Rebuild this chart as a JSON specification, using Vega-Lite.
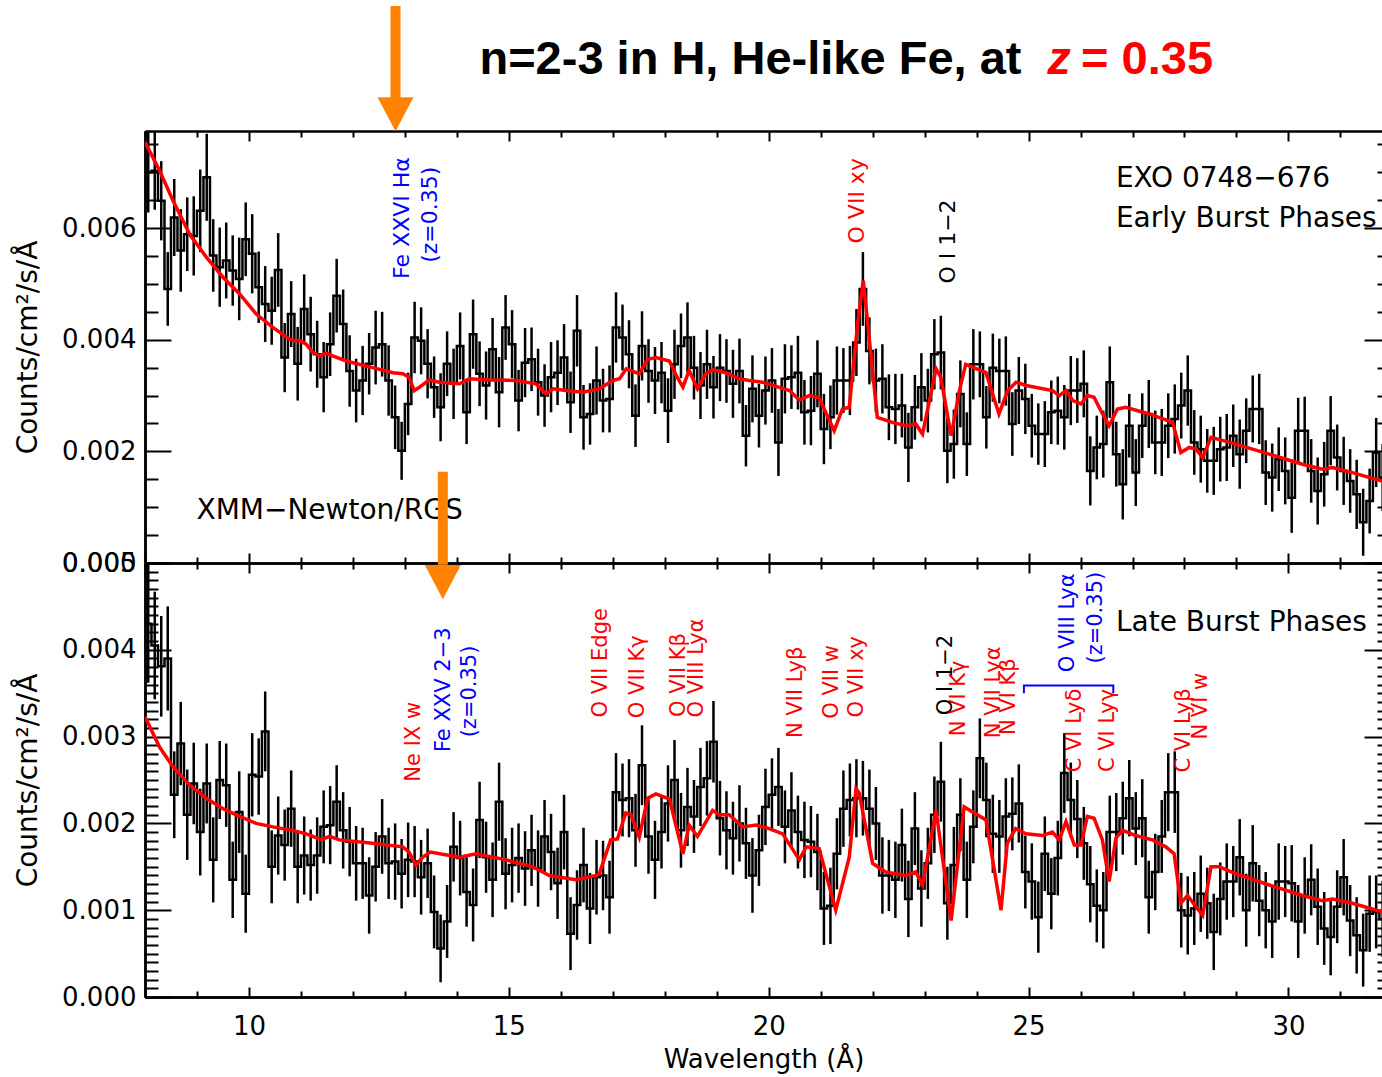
{
"$schema":"https://vega.github.io/schema/vega-lite/v6.json",
"width":1237,"height":866,
"autosize":{"type":"none"},
"padding":{"left":145,"top":131,"right":0,"bottom":80},
"background":"white",
"config":{"view":{"stroke":null},
"axis":{"grid":false,"domainColor":"#000000","domainWidth":2.5,"tickColor":"#000000","tickWidth":2,"labelColor":"#000000","labelFont":"DejaVu Sans","labelFontSize":26,"titleFont":"DejaVu Sans","titleFontSize":26,"titleFontWeight":"normal","titleColor":"#000000","labelFlush":false,"labelOverlap":false}},
"datasets":{
"top":[{"x":8.0625,"y":0.007,"e":0.00072},{"x":8.1875,"y":0.00703,"e":0.0007},{"x":8.3125,"y":0.00649,"e":0.00071},{"x":8.4375,"y":0.00491,"e":0.00066},{"x":8.5625,"y":0.00619,"e":0.00069},{"x":8.6875,"y":0.0056,"e":0.00074},{"x":8.8125,"y":0.00589,"e":0.00066},{"x":8.9375,"y":0.00586,"e":0.00071},
{"x":9.0625,"y":0.00631,"e":0.00074},{"x":9.1875,"y":0.00691,"e":0.00078},{"x":9.3125,"y":0.00551,"e":0.00065},{"x":9.4375,"y":0.0053,"e":0.00071},{"x":9.5625,"y":0.00542,"e":0.00068},{"x":9.6875,"y":0.00524,"e":0.00063},{"x":9.8125,"y":0.00509,"e":0.00074},{"x":9.9375,"y":0.0058,"e":0.00066},
{"x":10.0625,"y":0.00554,"e":0.00071},{"x":10.1875,"y":0.00494,"e":0.00064},{"x":10.3125,"y":0.00464,"e":0.00068},{"x":10.4375,"y":0.00452,"e":0.00061},{"x":10.5625,"y":0.00525,"e":0.00066},{"x":10.6875,"y":0.00368,"e":0.00062},{"x":10.8125,"y":0.00446,"e":0.00059},{"x":10.9375,"y":0.00357,"e":0.00066},
{"x":11.0625,"y":0.00455,"e":0.00062},{"x":11.1875,"y":0.0041,"e":0.00067},{"x":11.3125,"y":0.00374,"e":0.0006},{"x":11.4375,"y":0.00333,"e":0.00063},{"x":11.5625,"y":0.00392,"e":0.00057},{"x":11.6875,"y":0.00479,"e":0.00066},{"x":11.8125,"y":0.00428,"e":0.00062},{"x":11.9375,"y":0.00344,"e":0.00064},
{"x":12.0625,"y":0.00309,"e":0.00057},{"x":12.1875,"y":0.00327,"e":0.00062},{"x":12.3125,"y":0.00357,"e":0.00055},{"x":12.4375,"y":0.00386,"e":0.00066},{"x":12.5625,"y":0.00392,"e":0.00058},{"x":12.6875,"y":0.00327,"e":0.00063},{"x":12.8125,"y":0.00261,"e":0.00057},{"x":12.9375,"y":0.00201,"e":0.00052},
{"x":13.0625,"y":0.00285,"e":0.00056},{"x":13.1875,"y":0.00404,"e":0.00064},{"x":13.3125,"y":0.00398,"e":0.0006},{"x":13.4375,"y":0.00357,"e":0.00062},{"x":13.5625,"y":0.00315,"e":0.00055},{"x":13.6875,"y":0.00279,"e":0.00061},{"x":13.8125,"y":0.00357,"e":0.00058},{"x":13.9375,"y":0.00321,"e":0.00063},
{"x":14.0625,"y":0.00389,"e":0.0006},{"x":14.1875,"y":0.0027,"e":0.00057},{"x":14.3125,"y":0.0041,"e":0.00062},{"x":14.4375,"y":0.00339,"e":0.00058},{"x":14.5625,"y":0.00318,"e":0.00061},{"x":14.6875,"y":0.00383,"e":0.00056},{"x":14.8125,"y":0.00306,"e":0.00063},{"x":14.9375,"y":0.00422,"e":0.00058},
{"x":15.0625,"y":0.00392,"e":0.00061},{"x":15.1875,"y":0.00291,"e":0.00055},{"x":15.3125,"y":0.00359,"e":0.00062},{"x":15.4375,"y":0.00365,"e":0.00057},{"x":15.5625,"y":0.00324,"e":0.0006},{"x":15.6875,"y":0.003,"e":0.00056},{"x":15.8125,"y":0.00333,"e":0.00063},{"x":15.9375,"y":0.00341,"e":0.00058},
{"x":16.0625,"y":0.00368,"e":0.0006},{"x":16.1875,"y":0.00288,"e":0.00055},{"x":16.3125,"y":0.00416,"e":0.00064},{"x":16.4375,"y":0.00261,"e":0.00058},{"x":16.5625,"y":0.00267,"e":0.00055},{"x":16.6875,"y":0.00327,"e":0.00061},{"x":16.8125,"y":0.00291,"e":0.00057},{"x":16.9375,"y":0.00294,"e":0.0006},
{"x":17.0625,"y":0.00422,"e":0.00063},{"x":17.1875,"y":0.00404,"e":0.00059},{"x":17.3125,"y":0.00374,"e":0.00061},{"x":17.4375,"y":0.00264,"e":0.00056},{"x":17.5625,"y":0.00389,"e":0.00062},{"x":17.6875,"y":0.00344,"e":0.00057},{"x":17.8125,"y":0.00327,"e":0.0006},{"x":17.9375,"y":0.00341,"e":0.00055},
{"x":18.0625,"y":0.00273,"e":0.00058},{"x":18.1875,"y":0.00356,"e":0.00062},{"x":18.3125,"y":0.00389,"e":0.00058},{"x":18.4375,"y":0.00404,"e":0.00063},{"x":18.5625,"y":0.0035,"e":0.00057},{"x":18.6875,"y":0.00318,"e":0.0006},{"x":18.8125,"y":0.00356,"e":0.00062},{"x":18.9375,"y":0.00315,"e":0.00056},
{"x":19.0625,"y":0.0035,"e":0.0006},{"x":19.1875,"y":0.00344,"e":0.00057},{"x":19.3125,"y":0.00321,"e":0.00061},{"x":19.4375,"y":0.00344,"e":0.00058},{"x":19.5625,"y":0.00228,"e":0.00055},{"x":19.6875,"y":0.00312,"e":0.0006},{"x":19.8125,"y":0.00264,"e":0.00057},{"x":19.9375,"y":0.00309,"e":0.00061},
{"x":20.0625,"y":0.00327,"e":0.00058},{"x":20.1875,"y":0.00216,"e":0.0006},{"x":20.3125,"y":0.0033,"e":0.00062},{"x":20.4375,"y":0.00333,"e":0.00057},{"x":20.5625,"y":0.00341,"e":0.00066},{"x":20.6875,"y":0.0027,"e":0.00058},{"x":20.8125,"y":0.00273,"e":0.00062},{"x":20.9375,"y":0.00339,"e":0.0006},
{"x":21.0625,"y":0.0024,"e":0.00063},{"x":21.1875,"y":0.00261,"e":0.00057},{"x":21.3125,"y":0.00327,"e":0.00061},{"x":21.4375,"y":0.00327,"e":0.00058},{"x":21.5625,"y":0.00327,"e":0.00062},{"x":21.6875,"y":0.00395,"e":0.0006},{"x":21.8125,"y":0.00491,"e":0.00066},{"x":21.9375,"y":0.0038,"e":0.0006},
{"x":22.0625,"y":0.00327,"e":0.00057},{"x":22.1875,"y":0.0033,"e":0.00062},{"x":22.3125,"y":0.00279,"e":0.00059},{"x":22.4375,"y":0.00276,"e":0.00063},{"x":22.5625,"y":0.00282,"e":0.00057},{"x":22.6875,"y":0.00207,"e":0.00062},{"x":22.8125,"y":0.00279,"e":0.00058},{"x":22.9375,"y":0.00315,"e":0.00061},
{"x":23.0625,"y":0.00291,"e":0.00057},{"x":23.1875,"y":0.00374,"e":0.00063},{"x":23.3125,"y":0.00377,"e":0.00066},{"x":23.4375,"y":0.00201,"e":0.00058},{"x":23.5625,"y":0.00213,"e":0.00062},{"x":23.6875,"y":0.00303,"e":0.0006},{"x":23.8125,"y":0.00213,"e":0.00057},{"x":23.9375,"y":0.00356,"e":0.00063},
{"x":24.0625,"y":0.00356,"e":0.00059},{"x":24.1875,"y":0.00261,"e":0.00056},{"x":24.3125,"y":0.0035,"e":0.00061},{"x":24.4375,"y":0.00344,"e":0.00058},{"x":24.5625,"y":0.00344,"e":0.00062},{"x":24.6875,"y":0.00249,"e":0.00057},{"x":24.8125,"y":0.00309,"e":0.0006},{"x":24.9375,"y":0.00294,"e":0.00063},
{"x":25.0625,"y":0.00246,"e":0.00057},{"x":25.1875,"y":0.00231,"e":0.00055},{"x":25.3125,"y":0.00231,"e":0.00059},{"x":25.4375,"y":0.0027,"e":0.00057},{"x":25.5625,"y":0.00273,"e":0.00061},{"x":25.6875,"y":0.00261,"e":0.00058},{"x":25.8125,"y":0.00309,"e":0.00062},{"x":25.9375,"y":0.00309,"e":0.00058},
{"x":26.0625,"y":0.00321,"e":0.0006},{"x":26.1875,"y":0.00165,"e":0.00062},{"x":26.3125,"y":0.00207,"e":0.00057},{"x":26.4375,"y":0.00213,"e":0.0006},{"x":26.5625,"y":0.00324,"e":0.00064},{"x":26.6875,"y":0.00195,"e":0.00058},{"x":26.8125,"y":0.00141,"e":0.00063},{"x":26.9375,"y":0.00246,"e":0.00057},
{"x":27.0625,"y":0.00162,"e":0.0006},{"x":27.1875,"y":0.00246,"e":0.00058},{"x":27.3125,"y":0.00267,"e":0.00061},{"x":27.4375,"y":0.00216,"e":0.00057},{"x":27.5625,"y":0.00216,"e":0.0006},{"x":27.6875,"y":0.00246,"e":0.00058},{"x":27.8125,"y":0.00258,"e":0.00062},{"x":27.9375,"y":0.00282,"e":0.00059},
{"x":28.0625,"y":0.00309,"e":0.00063},{"x":28.1875,"y":0.00216,"e":0.00058},{"x":28.3125,"y":0.00204,"e":0.0006},{"x":28.4375,"y":0.00183,"e":0.00057},{"x":28.5625,"y":0.00183,"e":0.00061},{"x":28.6875,"y":0.00204,"e":0.00058},{"x":28.8125,"y":0.00207,"e":0.0006},{"x":28.9375,"y":0.00228,"e":0.00056},
{"x":29.0625,"y":0.00195,"e":0.00062},{"x":29.1875,"y":0.00237,"e":0.00058},{"x":29.3125,"y":0.00276,"e":0.0006},{"x":29.4375,"y":0.00276,"e":0.00063},{"x":29.5625,"y":0.00162,"e":0.00058},{"x":29.6875,"y":0.00153,"e":0.00061},{"x":29.8125,"y":0.00186,"e":0.00057},{"x":29.9375,"y":0.00165,"e":0.0006},
{"x":30.0625,"y":0.00117,"e":0.00063},{"x":30.1875,"y":0.00237,"e":0.00059},{"x":30.3125,"y":0.00237,"e":0.00061},{"x":30.4375,"y":0.00165,"e":0.00057},{"x":30.5625,"y":0.00129,"e":0.0006},{"x":30.6875,"y":0.00159,"e":0.00058},{"x":30.8125,"y":0.00237,"e":0.00062},{"x":30.9375,"y":0.00189,"e":0.00059},
{"x":31.0625,"y":0.00165,"e":0.00061},{"x":31.1875,"y":0.00147,"e":0.00057},{"x":31.3125,"y":0.00123,"e":0.00062},{"x":31.4375,"y":0.00073,"e":0.0006},{"x":31.5625,"y":0.00111,"e":0.00058},{"x":31.6875,"y":0.00198,"e":0.00062},{"x":31.8125,"y":0.00153,"e":0.0006}],
"bot":[{"x":8.0625,"y":0.0043,"e":0.00068},{"x":8.1875,"y":0.00405,"e":0.00062},{"x":8.3125,"y":0.00381,"e":0.00058},{"x":8.4375,"y":0.0039,"e":0.0006},{"x":8.5625,"y":0.00233,"e":0.0005},{"x":8.6875,"y":0.00292,"e":0.00048},{"x":8.8125,"y":0.0021,"e":0.00052},{"x":8.9375,"y":0.00246,"e":0.00047},
{"x":9.0625,"y":0.0019,"e":0.0005},{"x":9.1875,"y":0.00246,"e":0.00046},{"x":9.3125,"y":0.00158,"e":0.00049},{"x":9.4375,"y":0.0025,"e":0.00045},{"x":9.5625,"y":0.00244,"e":0.00048},{"x":9.6875,"y":0.00135,"e":0.00044},{"x":9.8125,"y":0.00213,"e":0.00047},{"x":9.9375,"y":0.00119,"e":0.00045},
{"x":10.0625,"y":0.00256,"e":0.00048},{"x":10.1875,"y":0.00254,"e":0.00044},{"x":10.3125,"y":0.00306,"e":0.00046},{"x":10.4375,"y":0.0015,"e":0.00042},{"x":10.5625,"y":0.00186,"e":0.00045},{"x":10.6875,"y":0.00175,"e":0.00041},{"x":10.8125,"y":0.00217,"e":0.00044},{"x":10.9375,"y":0.0015,"e":0.00042},
{"x":11.0625,"y":0.00163,"e":0.00045},{"x":11.1875,"y":0.00152,"e":0.00041},{"x":11.3125,"y":0.00163,"e":0.00044},{"x":11.4375,"y":0.00196,"e":0.00042},{"x":11.5625,"y":0.00198,"e":0.00045},{"x":11.6875,"y":0.00225,"e":0.00042},{"x":11.8125,"y":0.00192,"e":0.00044},{"x":11.9375,"y":0.00179,"e":0.0004},
{"x":12.0625,"y":0.00154,"e":0.00043},{"x":12.1875,"y":0.00154,"e":0.00041},{"x":12.3125,"y":0.00117,"e":0.00044},{"x":12.4375,"y":0.0015,"e":0.0004},{"x":12.5625,"y":0.00185,"e":0.00043},{"x":12.6875,"y":0.00154,"e":0.00041},{"x":12.8125,"y":0.00156,"e":0.00044},{"x":12.9375,"y":0.00142,"e":0.0004},
{"x":13.0625,"y":0.00158,"e":0.00043},{"x":13.1875,"y":0.00156,"e":0.00041},{"x":13.3125,"y":0.00138,"e":0.00043},{"x":13.4375,"y":0.00154,"e":0.0004},{"x":13.5625,"y":0.00098,"e":0.00042},{"x":13.6875,"y":0.00056,"e":0.00039},{"x":13.8125,"y":0.00087,"e":0.00042},{"x":13.9375,"y":0.00173,"e":0.0004},
{"x":14.0625,"y":0.0016,"e":0.00043},{"x":14.1875,"y":0.00121,"e":0.0004},{"x":14.3125,"y":0.00106,"e":0.00042},{"x":14.4375,"y":0.00204,"e":0.00044},{"x":14.5625,"y":0.00161,"e":0.00041},{"x":14.6875,"y":0.00135,"e":0.00043},{"x":14.8125,"y":0.00225,"e":0.00045},{"x":14.9375,"y":0.00142,"e":0.00041},
{"x":15.0625,"y":0.00152,"e":0.00043},{"x":15.1875,"y":0.0016,"e":0.0004},{"x":15.3125,"y":0.00148,"e":0.00043},{"x":15.4375,"y":0.00169,"e":0.00041},{"x":15.5625,"y":0.00148,"e":0.00044},{"x":15.6875,"y":0.00185,"e":0.00042},{"x":15.8125,"y":0.00167,"e":0.00044},{"x":15.9375,"y":0.00131,"e":0.00041},
{"x":16.0625,"y":0.0019,"e":0.00043},{"x":16.1875,"y":0.00073,"e":0.00042},{"x":16.3125,"y":0.00106,"e":0.0004},{"x":16.4375,"y":0.00152,"e":0.00043},{"x":16.5625,"y":0.00102,"e":0.00041},{"x":16.6875,"y":0.00138,"e":0.00043},{"x":16.8125,"y":0.0014,"e":0.0004},{"x":16.9375,"y":0.00115,"e":0.00042},
{"x":17.0625,"y":0.00236,"e":0.00045},{"x":17.1875,"y":0.00227,"e":0.00042},{"x":17.3125,"y":0.00229,"e":0.00045},{"x":17.4375,"y":0.00192,"e":0.00042},{"x":17.5625,"y":0.00267,"e":0.00046},{"x":17.6875,"y":0.00185,"e":0.00043},{"x":17.8125,"y":0.00158,"e":0.00045},{"x":17.9375,"y":0.0019,"e":0.00042},
{"x":18.0625,"y":0.00223,"e":0.00044},{"x":18.1875,"y":0.0025,"e":0.00046},{"x":18.3125,"y":0.00192,"e":0.00043},{"x":18.4375,"y":0.00219,"e":0.00045},{"x":18.5625,"y":0.00208,"e":0.00042},{"x":18.6875,"y":0.00242,"e":0.00045},{"x":18.8125,"y":0.00252,"e":0.00043},{"x":18.9375,"y":0.00294,"e":0.00047},
{"x":19.0625,"y":0.00206,"e":0.00043},{"x":19.1875,"y":0.00192,"e":0.00045},{"x":19.3125,"y":0.00183,"e":0.00042},{"x":19.4375,"y":0.002,"e":0.00044},{"x":19.5625,"y":0.00177,"e":0.00041},{"x":19.6875,"y":0.0014,"e":0.00043},{"x":19.8125,"y":0.00169,"e":0.00041},{"x":19.9375,"y":0.00219,"e":0.00044},
{"x":20.0625,"y":0.00233,"e":0.00042},{"x":20.1875,"y":0.00242,"e":0.00045},{"x":20.3125,"y":0.00196,"e":0.00042},{"x":20.4375,"y":0.00215,"e":0.00044},{"x":20.5625,"y":0.0019,"e":0.00042},{"x":20.6875,"y":0.00181,"e":0.00044},{"x":20.8125,"y":0.00179,"e":0.00041},{"x":20.9375,"y":0.00167,"e":0.00044},
{"x":21.0625,"y":0.00102,"e":0.00042},{"x":21.1875,"y":0.00105,"e":0.00044},{"x":21.3125,"y":0.00165,"e":0.00041},{"x":21.4375,"y":0.00217,"e":0.00044},{"x":21.5625,"y":0.00227,"e":0.00042},{"x":21.6875,"y":0.00229,"e":0.00045},{"x":21.8125,"y":0.00229,"e":0.00043},{"x":21.9375,"y":0.00217,"e":0.00045},
{"x":22.0625,"y":0.002,"e":0.00042},{"x":22.1875,"y":0.0014,"e":0.00044},{"x":22.3125,"y":0.0014,"e":0.00041},{"x":22.4375,"y":0.00135,"e":0.00044},{"x":22.5625,"y":0.00175,"e":0.00042},{"x":22.6875,"y":0.00113,"e":0.00044},{"x":22.8125,"y":0.00194,"e":0.00042},{"x":22.9375,"y":0.00125,"e":0.00044},
{"x":23.0625,"y":0.00154,"e":0.00041},{"x":23.1875,"y":0.0021,"e":0.00044},{"x":23.3125,"y":0.00248,"e":0.00046},{"x":23.4375,"y":0.00108,"e":0.00042},{"x":23.5625,"y":0.00152,"e":0.00044},{"x":23.6875,"y":0.0021,"e":0.00042},{"x":23.8125,"y":0.00135,"e":0.00044},{"x":23.9375,"y":0.00196,"e":0.00042},
{"x":24.0625,"y":0.00275,"e":0.00046},{"x":24.1875,"y":0.00227,"e":0.00043},{"x":24.3125,"y":0.00188,"e":0.00045},{"x":24.4375,"y":0.00185,"e":0.00042},{"x":24.5625,"y":0.00208,"e":0.00044},{"x":24.6875,"y":0.00211,"e":0.00042},{"x":24.8125,"y":0.00223,"e":0.00045},{"x":24.9375,"y":0.00144,"e":0.00042},
{"x":25.0625,"y":0.00133,"e":0.00044},{"x":25.1875,"y":0.00092,"e":0.00041},{"x":25.3125,"y":0.00165,"e":0.00043},{"x":25.4375,"y":0.00119,"e":0.00041},{"x":25.5625,"y":0.0016,"e":0.00043},{"x":25.6875,"y":0.00258,"e":0.00046},{"x":25.8125,"y":0.00227,"e":0.00043},{"x":25.9375,"y":0.00205,"e":0.00045},
{"x":26.0625,"y":0.00177,"e":0.00042},{"x":26.1875,"y":0.0013,"e":0.00044},{"x":26.3125,"y":0.00105,"e":0.00042},{"x":26.4375,"y":0.001,"e":0.00044},{"x":26.5625,"y":0.0019,"e":0.00042},{"x":26.6875,"y":0.0019,"e":0.00045},{"x":26.8125,"y":0.00206,"e":0.00042},{"x":26.9375,"y":0.00229,"e":0.00044},
{"x":27.0625,"y":0.00194,"e":0.00042},{"x":27.1875,"y":0.00206,"e":0.00045},{"x":27.3125,"y":0.00115,"e":0.00042},{"x":27.4375,"y":0.00144,"e":0.00044},{"x":27.5625,"y":0.00185,"e":0.00042},{"x":27.6875,"y":0.00236,"e":0.00045},{"x":27.8125,"y":0.00236,"e":0.00047},{"x":27.9375,"y":0.001,"e":0.00043},
{"x":28.0625,"y":0.00094,"e":0.00045},{"x":28.1875,"y":0.00102,"e":0.00042},{"x":28.3125,"y":0.00119,"e":0.00044},{"x":28.4375,"y":0.00108,"e":0.00041},{"x":28.5625,"y":0.00075,"e":0.00044},{"x":28.6875,"y":0.00113,"e":0.00042},{"x":28.8125,"y":0.00133,"e":0.00044},{"x":28.9375,"y":0.00133,"e":0.00041},
{"x":29.0625,"y":0.00161,"e":0.00044},{"x":29.1875,"y":0.001,"e":0.00042},{"x":29.3125,"y":0.00154,"e":0.00044},{"x":29.4375,"y":0.00111,"e":0.00041},{"x":29.5625,"y":0.001,"e":0.00044},{"x":29.6875,"y":0.00087,"e":0.00042},{"x":29.8125,"y":0.00133,"e":0.00044},{"x":29.9375,"y":0.00133,"e":0.00041},
{"x":30.0625,"y":0.00131,"e":0.00044},{"x":30.1875,"y":0.00087,"e":0.00042},{"x":30.3125,"y":0.00117,"e":0.00044},{"x":30.4375,"y":0.00135,"e":0.00041},{"x":30.5625,"y":0.00104,"e":0.00044},{"x":30.6875,"y":0.00079,"e":0.00042},{"x":30.8125,"y":0.00069,"e":0.00044},{"x":30.9375,"y":0.00104,"e":0.00042},
{"x":31.0625,"y":0.00138,"e":0.00044},{"x":31.1875,"y":0.00088,"e":0.00041},{"x":31.3125,"y":0.00071,"e":0.00044},{"x":31.4375,"y":0.00054,"e":0.00042},{"x":31.5625,"y":0.00096,"e":0.00044},{"x":31.6875,"y":0.00098,"e":0.00042},{"x":31.8125,"y":0.0009,"e":0.00044}],
"mtop":[{"x":8.0,"y":0.00754},{"x":8.28,"y":0.00703},{"x":8.54,"y":0.00649},{"x":8.86,"y":0.00589},{"x":9.18,"y":0.00548},{"x":9.5,"y":0.00512},{"x":9.82,"y":0.00482},{"x":10.14,"y":0.00446},{"x":10.46,"y":0.00422},{"x":10.78,"y":0.00401},{"x":10.88,"y":0.00398},{"x":10.97,"y":0.00399},{"x":11.1,"y":0.00392},{"x":11.23,"y":0.00377},{"x":11.36,"y":0.00371},{"x":11.49,"y":0.00376},{"x":11.61,"y":0.00371},{"x":11.87,"y":0.00362},{"x":12.38,"y":0.0035},{"x":12.77,"y":0.00341},{"x":12.96,"y":0.00339},{"x":13.08,"y":0.00333},{"x":13.18,"y":0.00309},{"x":13.28,"y":0.00315},{"x":13.47,"y":0.00328},{"x":13.66,"y":0.00324},{"x":14.05,"y":0.00321},{"x":14.24,"y":0.0033},{"x":14.63,"y":0.00328},{"x":15.14,"y":0.00327},{"x":15.52,"y":0.00321},{"x":15.72,"y":0.00303},{"x":15.85,"y":0.00312},{"x":16.1,"y":0.00309},{"x":16.42,"y":0.00306},{"x":16.74,"y":0.00312},{"x":17.0,"y":0.00327},{"x":17.13,"y":0.0033},{"x":17.26,"y":0.00348},{"x":17.51,"y":0.00339},{"x":17.67,"y":0.00365},{"x":17.83,"y":0.00368},{"x":18.09,"y":0.00362},{"x":18.22,"y":0.00336},{"x":18.35,"y":0.00315},{"x":18.47,"y":0.00345},{"x":18.63,"y":0.00312},{"x":18.79,"y":0.00339},{"x":18.92,"y":0.00346},{"x":19.18,"y":0.00341},{"x":19.43,"y":0.0033},{"x":19.63,"y":0.00327},{"x":19.88,"y":0.00324},{"x":20.4,"y":0.00309},{"x":20.59,"y":0.00292},{"x":20.78,"y":0.003},{"x":20.97,"y":0.00296},{"x":21.26,"y":0.00237},{"x":21.42,"y":0.00276},{"x":21.55,"y":0.00279},{"x":21.71,"y":0.00428},{"x":21.82,"y":0.00506},{"x":21.88,"y":0.00452},{"x":22.09,"y":0.00261},{"x":22.38,"y":0.00252},{"x":22.64,"y":0.00246},{"x":22.83,"y":0.00249},{"x":22.96,"y":0.00231},{"x":23.22,"y":0.00348},{"x":23.31,"y":0.00333},{"x":23.51,"y":0.00228},{"x":23.67,"y":0.00309},{"x":23.79,"y":0.00356},{"x":24.18,"y":0.00341},{"x":24.43,"y":0.00267},{"x":24.6,"y":0.00309},{"x":24.76,"y":0.00324},{"x":24.95,"y":0.00318},{"x":25.46,"y":0.00309},{"x":25.59,"y":0.003},{"x":25.72,"y":0.00309},{"x":25.85,"y":0.00291},{"x":26.01,"y":0.00285},{"x":26.13,"y":0.003},{"x":26.26,"y":0.00297},{"x":26.39,"y":0.00273},{"x":26.55,"y":0.00246},{"x":26.71,"y":0.00276},{"x":26.87,"y":0.00279},{"x":27.32,"y":0.00267},{"x":27.77,"y":0.00252},{"x":27.93,"y":0.00198},{"x":28.09,"y":0.00207},{"x":28.22,"y":0.00204},{"x":28.35,"y":0.00189},{"x":28.51,"y":0.00225},{"x":28.99,"y":0.00213},{"x":29.63,"y":0.00195},{"x":30.27,"y":0.00177},{"x":30.65,"y":0.00168},{"x":30.85,"y":0.00171},{"x":31.23,"y":0.00162},{"x":31.8,"y":0.00147}],
"mbot":[{"x":8.0,"y":0.00323},{"x":8.28,"y":0.00288},{"x":8.54,"y":0.00265},{"x":8.86,"y":0.00244},{"x":9.18,"y":0.00229},{"x":9.5,"y":0.00217},{"x":9.82,"y":0.00208},{"x":10.14,"y":0.002},{"x":10.46,"y":0.00196},{"x":10.84,"y":0.00192},{"x":11.1,"y":0.00188},{"x":11.23,"y":0.00185},{"x":11.39,"y":0.00181},{"x":11.55,"y":0.00185},{"x":11.74,"y":0.00181},{"x":12.38,"y":0.00177},{"x":12.96,"y":0.00173},{"x":13.08,"y":0.00167},{"x":13.21,"y":0.00152},{"x":13.34,"y":0.00161},{"x":13.49,"y":0.00167},{"x":14.05,"y":0.00161},{"x":14.37,"y":0.00165},{"x":14.95,"y":0.00158},{"x":15.46,"y":0.0015},{"x":15.78,"y":0.0014},{"x":16.29,"y":0.00135},{"x":16.68,"y":0.0014},{"x":16.74,"y":0.00142},{"x":16.96,"y":0.00181},{"x":17.09,"y":0.00182},{"x":17.25,"y":0.00212},{"x":17.35,"y":0.0021},{"x":17.51,"y":0.00184},{"x":17.67,"y":0.00229},{"x":17.83,"y":0.00234},{"x":18.09,"y":0.00228},{"x":18.35,"y":0.00165},{"x":18.47,"y":0.00198},{"x":18.63,"y":0.00185},{"x":18.92,"y":0.00215},{"x":19.05,"y":0.0021},{"x":19.24,"y":0.0021},{"x":19.5,"y":0.00196},{"x":19.76,"y":0.00198},{"x":20.01,"y":0.00194},{"x":20.27,"y":0.00188},{"x":20.59,"y":0.00158},{"x":20.72,"y":0.00173},{"x":20.97,"y":0.00171},{"x":21.29,"y":0.001},{"x":21.55,"y":0.00161},{"x":21.68,"y":0.0024},{"x":21.74,"y":0.00235},{"x":22.0,"y":0.00154},{"x":22.25,"y":0.00144},{"x":22.64,"y":0.0014},{"x":22.83,"y":0.00144},{"x":22.96,"y":0.00129},{"x":23.22,"y":0.00215},{"x":23.51,"y":0.00088},{"x":23.76,"y":0.00219},{"x":24.18,"y":0.00204},{"x":24.47,"y":0.001},{"x":24.59,"y":0.00177},{"x":24.75,"y":0.00194},{"x":24.95,"y":0.00188},{"x":25.27,"y":0.00186},{"x":25.46,"y":0.0019},{"x":25.59,"y":0.00181},{"x":25.72,"y":0.00202},{"x":25.88,"y":0.00175},{"x":26.01,"y":0.00175},{"x":26.13,"y":0.00208},{"x":26.26,"y":0.00206},{"x":26.42,"y":0.00181},{"x":26.55,"y":0.00133},{"x":26.68,"y":0.00183},{"x":26.81,"y":0.00192},{"x":27.06,"y":0.00186},{"x":27.38,"y":0.00181},{"x":27.64,"y":0.00173},{"x":27.8,"y":0.00165},{"x":27.93,"y":0.00108},{"x":28.06,"y":0.00117},{"x":28.22,"y":0.00104},{"x":28.35,"y":0.00094},{"x":28.51,"y":0.0015},{"x":28.67,"y":0.0015},{"x":28.99,"y":0.00142},{"x":29.63,"y":0.00129},{"x":30.27,"y":0.00117},{"x":30.65,"y":0.00111},{"x":30.85,"y":0.00113},{"x":31.23,"y":0.00108},{"x":31.8,"y":0.00098}],
"labT":[{"x":12.95,"y":0.00618,"t":"Fe XXVI Hα","c":"redshifted"},{"x":13.48,"y":0.00624,"t":"(z=0.35)","c":"redshifted"},{"x":21.7,"y":0.00649,"t":"O VII xy","c":"local"},{"x":23.45,"y":0.00576,"t":"O I 1−2","c":"neutral"}],
"hT":[{"x":26.68,"y":0.00688,"t":"EXO 0748−676"},{"x":26.68,"y":0.00616,"t":"Early Burst Phases"},{"x":8.99,"y":0.00093,"t":"XMM−Newton/RGS"}],
"labB":[{"x":13.17,"y":0.00294,"t":"Ne IX w","c":"local"},{"x":13.76,"y":0.00354,"t":"Fe XXV 2−3","c":"redshifted"},{"x":14.26,"y":0.00352,"t":"(z=0.35)","c":"redshifted"},{"x":16.77,"y":0.00385,"t":"O VII Edge","c":"local"},{"x":17.48,"y":0.00369,"t":"O VII Kγ","c":"local"},{"x":18.27,"y":0.00371,"t":"O VII Kβ","c":"local"},{"x":18.63,"y":0.00379,"t":"O VIII Lyα","c":"local"},{"x":20.53,"y":0.00351,"t":"N VII Lyβ","c":"local"},{"x":21.21,"y":0.00363,"t":"O VII w","c":"local"},{"x":21.7,"y":0.00369,"t":"O VII xy","c":"local"},{"x":23.41,"y":0.00371,"t":"O I 1−2","c":"neutral"},{"x":23.67,"y":0.00344,"t":"N VI Kγ","c":"local"},{"x":24.34,"y":0.00351,"t":"N VII Lyα","c":"local"},{"x":24.63,"y":0.00346,"t":"N VI Kβ","c":"local"},{"x":25.76,"y":0.00431,"t":"O VIII Lyα","c":"redshifted"},{"x":26.29,"y":0.00437,"t":"(z=0.35)","c":"redshifted"},{"x":25.9,"y":0.00307,"t":"C VI Lyδ","c":"local"},{"x":26.53,"y":0.00307,"t":"C VI Lyγ","c":"local"},{"x":28.0,"y":0.00307,"t":"C VI Lyβ","c":"local"},{"x":28.31,"y":0.00335,"t":"N VI w","c":"local"}],
"hB":[{"x":26.68,"y":0.00431,"t":"Late Burst Phases"}],
"bracket":[{"x":24.91,"y":0.0035,"o":1},{"x":24.91,"y":0.00359,"o":2},{"x":26.63,"y":0.00359,"o":3},{"x":26.63,"y":0.0035,"o":4}]
},
"resolve":{"scale":{"y":"independent"},"axis":{"x":"independent","y":"independent"}},
"layer":[
{"data":{"name":"top"},"mark":{"type":"errorbar","thickness":2.5,"color":"#000000"},
 "encoding":{
  "x":{"field":"x","type":"quantitative","scale":{"domain":[8,31.8],"nice":false,"zero":false},
   "axis":{"orient":"bottom","offset":-434,"values":[8,9,10,11,12,13,14,15,16,17,18,19,20,21,22,23,24,25,26,27,28,29,30,31],"labels":false,"title":null,"tickSize":{"condition":{"test":"datum.value % 5 === 0","value":-10},"value":-6}}},
  "y":{"field":"y","type":"quantitative","scale":{"domain":[0,0.00774],"range":[432,0],"nice":false,"zero":false},
   "axis":{"orient":"left","values":[0,0.002,0.004,0.006],"format":".3f","ticks":false,"labelPadding":9,"title":"Counts/cm²/s/Å","titleFontSize":28,"titlePadding":19}},
  "yError":{"field":"e"}}},
{"data":{"name":"top"},"mark":{"type":"line","interpolate":"step","color":"#000000","strokeWidth":2.5,"clip":true},
 "encoding":{
  "x":{"field":"x","type":"quantitative","scale":{"domain":[8,31.8],"nice":false,"zero":false},
   "axis":{"orient":"top","values":[8,9,10,11,12,13,14,15,16,17,18,19,20,21,22,23,24,25,26,27,28,29,30,31],"labels":false,"title":null,"tickSize":{"condition":{"test":"datum.value % 5 === 0","value":-10},"value":-6}}},
  "y":{"field":"y","type":"quantitative","scale":{"domain":[0,0.00774],"range":[432,0],"nice":false,"zero":false},
   "axis":{"orient":"left","values":[0,0.0005,0.001,0.0015,0.002,0.0025,0.003,0.0035,0.004,0.0045,0.005,0.0055,0.006,0.0065,0.007,0.0075],"labels":false,"title":null,"tickSize":{"condition":{"test":"abs(datum.value*500-round(datum.value*500))<0.001","value":-26},"value":-13}}}}},
{"data":{"name":"mtop"},"mark":{"type":"line","color":"#FF0000","strokeWidth":3.5,"clip":true},
 "encoding":{
  "x":{"field":"x","type":"quantitative","scale":{"domain":[8,31.8],"nice":false,"zero":false},"axis":null},
  "y":{"field":"y","type":"quantitative","scale":{"domain":[0,0.00774],"range":[432,0],"nice":false,"zero":false},
   "axis":{"orient":"right","offset":8,"values":[0,0.0005,0.001,0.0015,0.002,0.0025,0.003,0.0035,0.004,0.0045,0.005,0.0055,0.006,0.0065,0.007,0.0075],"labels":false,"title":null,"tickSize":{"condition":{"test":"abs(datum.value*500-round(datum.value*500))<0.001","value":-26},"value":-13}}}}},
{"data":{"name":"bot"},"mark":{"type":"errorbar","thickness":2.5,"color":"#000000"},
 "encoding":{
  "x":{"field":"x","type":"quantitative","scale":{"domain":[8,31.8],"nice":false,"zero":false},
   "axis":{"orient":"bottom","values":[10,15,20,25,30],"ticks":false,"labelPadding":16,"title":"Wavelength (Å)","titlePadding":7}},
  "y":{"field":"y","type":"quantitative","scale":{"domain":[0,0.005],"range":[866,432],"nice":false,"zero":false},
   "axis":{"orient":"left","values":[0,0.001,0.002,0.003,0.004,0.005],"format":".3f","ticks":false,"labelPadding":9,"title":"Counts/cm²/s/Å","titleFontSize":28,"titlePadding":19}},
  "yError":{"field":"e"}}},
{"data":{"name":"bot"},"mark":{"type":"line","interpolate":"step","color":"#000000","strokeWidth":2.5,"clip":true},
 "encoding":{
  "x":{"field":"x","type":"quantitative","scale":{"domain":[8,31.8],"nice":false,"zero":false},
   "axis":{"orient":"bottom","values":[8,9,10,11,12,13,14,15,16,17,18,19,20,21,22,23,24,25,26,27,28,29,30,31],"labels":false,"title":null,"tickSize":{"condition":{"test":"datum.value % 5 === 0","value":-10},"value":-6}}},
  "y":{"field":"y","type":"quantitative","scale":{"domain":[0,0.005],"range":[866,432],"nice":false,"zero":false},
   "axis":{"orient":"left","values":[0,0.0001,0.0002,0.0003,0.0004,0.0005,0.0006,0.0007,0.0008,0.0009,0.001,0.0011,0.0012,0.0013,0.0014,0.0015,0.0016,0.0017,0.0018,0.0019,0.002,0.0021,0.0022,0.0023,0.0024,0.0025,0.0026,0.0027,0.0028,0.0029,0.003,0.0031,0.0032,0.0033,0.0034,0.0035,0.0036,0.0037,0.0038,0.0039,0.004,0.0041,0.0042,0.0043,0.0044,0.0045,0.0046,0.0047,0.0048,0.0049,0.005],"labels":false,"title":null,"tickSize":{"condition":{"test":"abs(datum.value*1000-round(datum.value*1000))<0.001","value":-26},"value":-13}}}}},
{"data":{"name":"mbot"},"mark":{"type":"line","color":"#FF0000","strokeWidth":3.5,"clip":true},
 "encoding":{
  "x":{"field":"x","type":"quantitative","scale":{"domain":[8,31.8],"nice":false,"zero":false},
   "axis":{"orient":"top","offset":-432,"values":[8,9,10,11,12,13,14,15,16,17,18,19,20,21,22,23,24,25,26,27,28,29,30,31],"labels":false,"title":null,"tickSize":{"condition":{"test":"datum.value % 5 === 0","value":-10},"value":-6}}},
  "y":{"field":"y","type":"quantitative","scale":{"domain":[0,0.005],"range":[866,432],"nice":false,"zero":false},
   "axis":{"orient":"right","offset":8,"values":[0,0.0001,0.0002,0.0003,0.0004,0.0005,0.0006,0.0007,0.0008,0.0009,0.001,0.0011,0.0012,0.0013,0.0014,0.0015,0.0016,0.0017,0.0018,0.0019,0.002,0.0021,0.0022,0.0023,0.0024,0.0025,0.0026,0.0027,0.0028,0.0029,0.003,0.0031,0.0032,0.0033,0.0034,0.0035,0.0036,0.0037,0.0038,0.0039,0.004,0.0041,0.0042,0.0043,0.0044,0.0045,0.0046,0.0047,0.0048,0.0049,0.005],"labels":false,"title":null,"tickSize":{"condition":{"test":"abs(datum.value*1000-round(datum.value*1000))<0.001","value":-26},"value":-13}}}}},
{"data":{"name":"labT"},"mark":{"type":"text","angle":270,"align":"center","baseline":"middle","font":"DejaVu Sans","fontSize":22},
 "encoding":{"x":{"field":"x","type":"quantitative","scale":{"domain":[8,31.8],"nice":false,"zero":false},"axis":null},
  "y":{"field":"y","type":"quantitative","scale":{"domain":[0,0.00774],"range":[432,0],"nice":false,"zero":false},"axis":null},
  "text":{"field":"t"},
  "color":{"field":"c","type":"nominal","scale":{"domain":["local","redshifted","neutral"],"range":["#FF0000","#0000FF","#000000"]},"legend":null}}},
{"data":{"name":"hT"},"mark":{"type":"text","align":"left","baseline":"middle","font":"DejaVu Sans","fontSize":28,"color":"#000000"},
 "encoding":{"x":{"field":"x","type":"quantitative","scale":{"domain":[8,31.8],"nice":false,"zero":false},"axis":null},
  "y":{"field":"y","type":"quantitative","scale":{"domain":[0,0.00774],"range":[432,0],"nice":false,"zero":false},"axis":null},
  "text":{"field":"t"}}},
{"data":{"values":[{"x":14.435,"y":0.00876,"t":"n=2-3 in H, He-like Fe, at"}]},"mark":{"type":"text","align":"left","baseline":"alphabetic","font":"Liberation Sans","fontWeight":"bold","fontSize":47,"color":"#000000"},
 "encoding":{"x":{"field":"x","type":"quantitative","scale":{"domain":[8,31.8],"nice":false,"zero":false},"axis":null},
  "y":{"field":"y","type":"quantitative","scale":{"domain":[0,0.00774],"range":[432,0],"nice":false,"zero":false},"axis":null},
  "text":{"field":"t"}}},
{"data":{"values":[{"x":25.36,"y":0.00876,"t":"z"}]},"mark":{"type":"text","align":"left","baseline":"alphabetic","font":"Liberation Sans","fontWeight":"bold","fontStyle":"italic","fontSize":47,"color":"#FF0000"},
 "encoding":{"x":{"field":"x","type":"quantitative","scale":{"domain":[8,31.8],"nice":false,"zero":false},"axis":null},
  "y":{"field":"y","type":"quantitative","scale":{"domain":[0,0.00774],"range":[432,0],"nice":false,"zero":false},"axis":null},
  "text":{"field":"t"}}},
{"data":{"values":[{"x":26.01,"y":0.00876,"t":"= 0.35"}]},"mark":{"type":"text","align":"left","baseline":"alphabetic","font":"Liberation Sans","fontWeight":"bold","fontSize":47,"color":"#FF0000"},
 "encoding":{"x":{"field":"x","type":"quantitative","scale":{"domain":[8,31.8],"nice":false,"zero":false},"axis":null},
  "y":{"field":"y","type":"quantitative","scale":{"domain":[0,0.00774],"range":[432,0],"nice":false,"zero":false},"axis":null},
  "text":{"field":"t"}}},
{"data":{"values":[{"x":12.82,"y":0.00998,"y2":0.00828}]},"mark":{"type":"rule","color":"#FF8300","strokeWidth":10,"strokeCap":"butt"},
 "encoding":{"x":{"field":"x","type":"quantitative","scale":{"domain":[8,31.8],"nice":false,"zero":false},"axis":null},
  "y":{"field":"y","type":"quantitative","scale":{"domain":[0,0.00774],"range":[432,0],"nice":false,"zero":false},"axis":null},
  "y2":{"field":"y2"}}},
{"data":{"values":[{"x":12.82,"y":0.00804}]},"mark":{"type":"point","shape":"M-1,-0.95L1,-0.95L0,0.95Z","size":1296,"filled":true,"opacity":1,"color":"#FF8300","strokeWidth":0},
 "encoding":{"x":{"field":"x","type":"quantitative","scale":{"domain":[8,31.8],"nice":false,"zero":false},"axis":null},
  "y":{"field":"y","type":"quantitative","scale":{"domain":[0,0.00774],"range":[432,0],"nice":false,"zero":false},"axis":null}}},
{"data":{"name":"labB"},"mark":{"type":"text","angle":270,"align":"center","baseline":"middle","font":"DejaVu Sans","fontSize":21},
 "encoding":{"x":{"field":"x","type":"quantitative","scale":{"domain":[8,31.8],"nice":false,"zero":false},"axis":null},
  "y":{"field":"y","type":"quantitative","scale":{"domain":[0,0.005],"range":[866,432],"nice":false,"zero":false},"axis":null},
  "text":{"field":"t"},
  "color":{"field":"c","type":"nominal","scale":{"domain":["local","redshifted","neutral"],"range":["#FF0000","#0000FF","#000000"]},"legend":null}}},
{"data":{"name":"hB"},"mark":{"type":"text","align":"left","baseline":"middle","font":"DejaVu Sans","fontSize":28,"color":"#000000"},
 "encoding":{"x":{"field":"x","type":"quantitative","scale":{"domain":[8,31.8],"nice":false,"zero":false},"axis":null},
  "y":{"field":"y","type":"quantitative","scale":{"domain":[0,0.005],"range":[866,432],"nice":false,"zero":false},"axis":null},
  "text":{"field":"t"}}},
{"data":{"name":"bracket"},"mark":{"type":"line","color":"#0000FF","strokeWidth":2},
 "encoding":{"x":{"field":"x","type":"quantitative","scale":{"domain":[8,31.8],"nice":false,"zero":false},"axis":null},
  "y":{"field":"y","type":"quantitative","scale":{"domain":[0,0.005],"range":[866,432],"nice":false,"zero":false},"axis":null},
  "order":{"field":"o","type":"quantitative"}}},
{"data":{"values":[{"x":13.73,"y":0.00605,"y2":0.00498}]},"mark":{"type":"rule","color":"#FF8300","strokeWidth":10,"strokeCap":"butt"},
 "encoding":{"x":{"field":"x","type":"quantitative","scale":{"domain":[8,31.8],"nice":false,"zero":false},"axis":null},
  "y":{"field":"y","type":"quantitative","scale":{"domain":[0,0.005],"range":[866,432],"nice":false,"zero":false},"axis":null},
  "y2":{"field":"y2"}}},
{"data":{"values":[{"x":13.73,"y":0.00478}]},"mark":{"type":"point","shape":"M-1,-0.95L1,-0.95L0,0.95Z","size":1296,"filled":true,"opacity":1,"color":"#FF8300","strokeWidth":0},
 "encoding":{"x":{"field":"x","type":"quantitative","scale":{"domain":[8,31.8],"nice":false,"zero":false},"axis":null},
  "y":{"field":"y","type":"quantitative","scale":{"domain":[0,0.005],"range":[866,432],"nice":false,"zero":false},"axis":null}}}
]
}
